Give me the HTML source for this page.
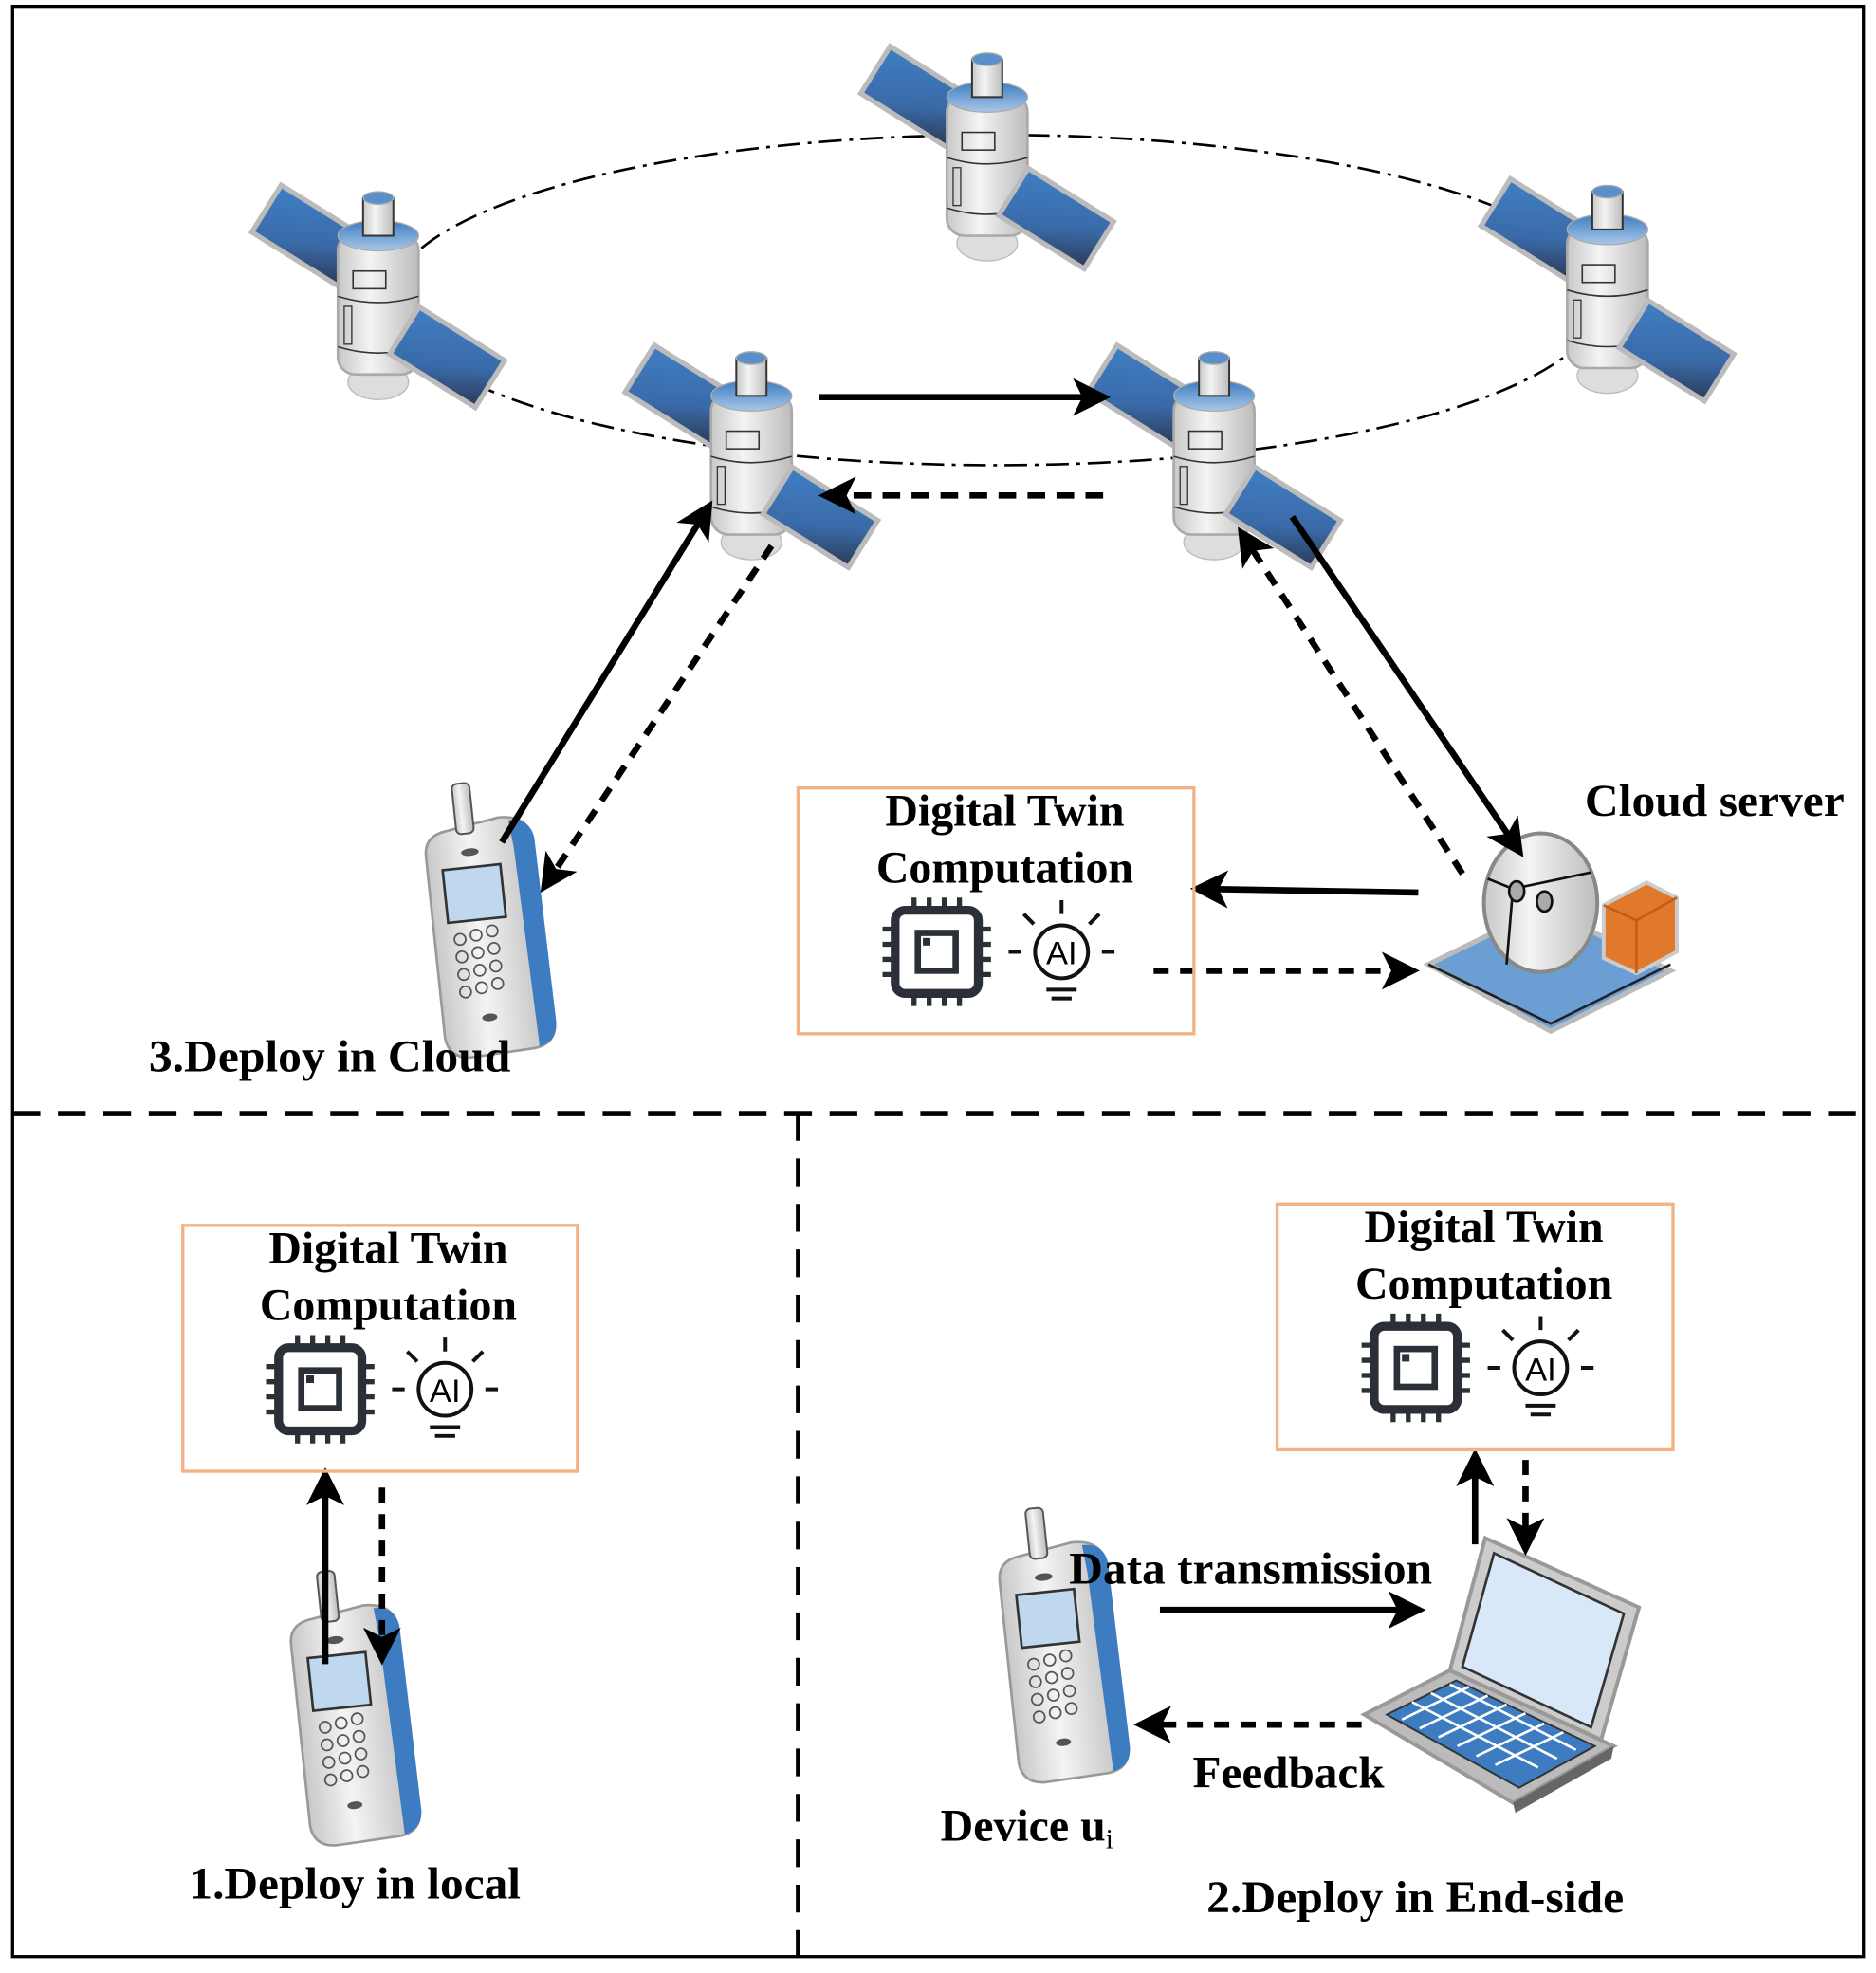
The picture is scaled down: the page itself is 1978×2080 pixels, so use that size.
<!DOCTYPE html>
<html><head><meta charset="utf-8"><style>
html,body{margin:0;padding:0;background:#fff}
svg{display:block}
text{font-family:"Liberation Serif",serif;font-weight:bold;fill:#000}
</style></head><body>
<svg width="1978" height="2080" viewBox="0 0 1488 1565" preserveAspectRatio="none" xmlns="http://www.w3.org/2000/svg">
<defs>
<linearGradient id="pan" x1="0" y1="0" x2="1" y2="1"><stop offset="0" stop-color="#3f7fc4"/><stop offset="0.6" stop-color="#3a6aa8"/><stop offset="1" stop-color="#2a3a55"/></linearGradient>
<linearGradient id="bod" x1="0" y1="0" x2="1" y2="0"><stop offset="0" stop-color="#c8c8c8"/><stop offset="0.4" stop-color="#f4f4f4"/><stop offset="1" stop-color="#bcbcbc"/></linearGradient>
<linearGradient id="blu" x1="0" y1="0" x2="0" y2="1"><stop offset="0" stop-color="#3d7cc0"/><stop offset="1" stop-color="#a9c8e8"/></linearGradient>
<marker id="ah" viewBox="0 0 10 10" refX="8" refY="5" markerWidth="6" markerHeight="6" orient="auto-start-reverse" markerUnits="strokeWidth"><path d="M0,0 L10,5 L0,10 L2.5,5 z" fill="#000"/></marker>
<g id="sat">
 <g transform="rotate(32)">
  <rect x="-112" y="-22" width="80" height="44" fill="url(#pan)" stroke="#bbb" stroke-width="4" transform="translate(0,-12)"/>
 </g>
 <ellipse cx="0" cy="68" rx="24" ry="14" fill="#ddd" stroke="#bbb"/>
 <rect x="-32" y="-50" width="64" height="112" rx="14" fill="url(#bod)" stroke="#aaa" stroke-width="2"/>
 <ellipse cx="0" cy="-48" rx="32" ry="12" fill="url(#blu)" stroke="#aaa"/>
 <rect x="-12" y="-78" width="24" height="30" fill="url(#bod)" stroke="#333" stroke-width="1.5"/>
 <ellipse cx="0" cy="-78" rx="12" ry="5" fill="#5b8fc9" stroke="#aaa"/>
 <rect x="-20" y="-20" width="26" height="14" fill="none" stroke="#333" stroke-width="1.2"/>
 <path d="M-32,0 Q0,10 32,0 M-32,40 Q0,50 32,40" fill="none" stroke="#333" stroke-width="1.2"/>
 <rect x="-27" y="8" width="6" height="30" fill="none" stroke="#333" stroke-width="1"/>
 <g transform="rotate(32)"><rect x="32" y="-10" width="80" height="44" fill="url(#pan)" stroke="#bbb" stroke-width="4"/></g>
</g>
<g id="phone">
 <path d="M-40,-70 Q-40,-85 -25,-88 L20,-95 Q42,-95 45,-78 L48,70 Q48,88 30,90 L-20,92 Q-38,92 -40,75 z" fill="url(#bod)" stroke="#999" stroke-width="2"/>
 <path d="M28,-92 Q45,-92 47,-76 L49,70 Q49,86 34,89 L30,-70 z" fill="#3d7cc0"/>
 <rect x="-14" y="-125" width="14" height="40" rx="4" fill="url(#bod)" stroke="#555" stroke-width="1.5"/>
 <rect x="-28" y="-58" width="46" height="42" fill="#c0d8ee" stroke="#333" stroke-width="2"/>
 <ellipse cx="-5" cy="-70" rx="7" ry="3" fill="#555"/>
 <g fill="none" stroke="#555" stroke-width="1.3">
  <circle cx="-20" cy="-2" r="4.5"/><circle cx="-7" cy="-4" r="4.5"/><circle cx="6" cy="-6" r="4.5"/>
  <circle cx="-20" cy="12" r="4.5"/><circle cx="-7" cy="10" r="4.5"/><circle cx="6" cy="8" r="4.5"/>
  <circle cx="-20" cy="26" r="4.5"/><circle cx="-7" cy="24" r="4.5"/><circle cx="6" cy="22" r="4.5"/>
  <circle cx="-20" cy="40" r="4.5"/><circle cx="-7" cy="38" r="4.5"/><circle cx="6" cy="36" r="4.5"/>
 </g>
 <ellipse cx="-3" cy="62" rx="6" ry="3" fill="#555"/>
</g>
<g id="icons">
 <g stroke="#2b2f38" fill="none">
  <rect x="-33" y="-33" width="66" height="66" rx="8" stroke-width="7"/>
  <rect x="-15" y="-15" width="30" height="30" stroke-width="5"/>
  <rect x="-11" y="-11" width="6" height="6" fill="#2b2f38" stroke="none"/>
  <path d="M-18,-33v-10M-6,-33v-10M6,-33v-10M18,-33v-10M-18,33v10M-6,33v10M6,33v10M18,33v10M-33,-18h-10M-33,-6h-10M-33,6h-10M-33,18h-10M33,-18h10M33,-6h10M33,6h10M33,18h10" stroke-width="4"/>
 </g>
 <g transform="translate(99,0)" stroke="#111" fill="none" stroke-width="3">
  <circle cx="0" cy="0" r="21"/>
  <path d="M-12,30h24M-8,37h16M0,-30v-11M-22,-22l-8,-8M22,-22l8,-8M-32,0h-10M32,0h10"/>
  <text x="0" y="10" font-size="26" text-anchor="middle" stroke="none" fill="#111" style="font-family:'Liberation Sans',sans-serif;font-weight:normal">AI</text>
 </g>
</g>
</defs>

<rect x="10" y="5" width="1468" height="1547" fill="none" stroke="#000" stroke-width="2.5"/>
<line x1="10" y1="883" x2="1478" y2="883" stroke="#000" stroke-width="3.5" stroke-dasharray="22,14"/>
<line x1="633" y1="883" x2="633" y2="1552" stroke="#000" stroke-width="3.5" stroke-dasharray="22,14"/>

<ellipse cx="790" cy="238" rx="480" ry="131" fill="none" stroke="#000" stroke-width="2" stroke-dasharray="18,6,3,6"/>

<use href="#sat" x="300" y="235"/>
<use href="#sat" x="783" y="125"/>
<use href="#sat" x="1275" y="230"/>
<use href="#sat" x="596" y="362"/>
<use href="#sat" x="963" y="362"/>

<use href="#phone" x="385" y="745" transform="rotate(-6 385 745)"/>
<use href="#phone" x="278" y="1370" transform="rotate(-6 278 1370)"/>
<use href="#phone" x="840" y="1320" transform="rotate(-6 840 1320)"/>

<!-- cloud server -->
<g>
 <path d="M1133,765 L1225,720 L1325,770 L1230,818 z" fill="#6b9fd4" stroke="#bbb" stroke-width="4"/>
 <path d="M1133,765 L1230,812 L1325,765" fill="none" stroke="#222" stroke-width="2"/>
 <ellipse cx="1222" cy="716" rx="45" ry="55" fill="url(#bod)" stroke="#888" stroke-width="3"/>
 <path d="M1180,697 L1200,705 L1262,692 M1200,705 L1195,765" fill="none" stroke="#111" stroke-width="2"/>
 <ellipse cx="1203" cy="707" rx="6" ry="8" fill="#aaa" stroke="#111" stroke-width="2"/>
 <ellipse cx="1225" cy="715" rx="6" ry="8" fill="#aaa" stroke="#111" stroke-width="2"/>
 <path d="M1272,718 L1306,700 L1330,712 L1330,755 L1298,772 L1272,760 z" fill="#e07a2a" stroke="#ccc" stroke-width="3"/>
 <path d="M1272,718 L1298,730 L1330,712 M1298,730 L1298,772" fill="none" stroke="#c25e18" stroke-width="2"/>
</g>

<!-- laptop -->
<g>
 <path d="M1178,1220 L1300,1275 L1270,1380 L1150,1325 z" fill="#ccc" stroke="#999" stroke-width="3"/>
 <path d="M1185,1232 L1288,1280 L1262,1370 L1160,1322 z" fill="#d8e8f8" stroke="#333" stroke-width="2"/>
 <path d="M1082,1360 L1150,1325 L1280,1385 L1200,1430 z" fill="#bbb" stroke="#999" stroke-width="3"/>
 <path d="M1100,1360 L1155,1333 L1265,1385 L1205,1418 z" fill="#3d7cc0" stroke="#333" stroke-width="1.5"/>
 <g stroke="#fff" stroke-width="2" fill="none">
  <path d="M1112,1364 L1165,1338 M1126,1371 L1180,1345 M1141,1378 L1195,1352 M1156,1385 L1210,1359 M1171,1393 L1225,1367 M1186,1400 L1240,1374"/>
  <path d="M1120,1350 L1220,1402 M1135,1343 L1235,1395 M1150,1336 L1250,1388"/>
 </g>
 <path d="M1200,1430 L1280,1385 L1278,1395 L1202,1438 z" fill="#666"/>
</g>

<g stroke="#000" stroke-width="5" fill="none">
 <line x1="650" y1="315" x2="875" y2="315" marker-end="url(#ah)"/>
 <line x1="875" y1="393" x2="655" y2="393" marker-end="url(#ah)" stroke-dasharray="14,9"/>
 <line x1="398" y1="668" x2="562" y2="402" marker-end="url(#ah)"/>
 <line x1="612" y1="433" x2="432" y2="703" marker-end="url(#ah)" stroke-dasharray="12,9"/>
 <line x1="1160" y1="693" x2="985" y2="423" marker-end="url(#ah)" stroke-dasharray="12,9"/>
 <line x1="1025" y1="410" x2="1205" y2="675" marker-end="url(#ah)"/>
 <line x1="1125" y1="708" x2="950" y2="705" marker-end="url(#ah)"/>
 <line x1="915" y1="770" x2="1120" y2="770" marker-end="url(#ah)" stroke-dasharray="12,9"/>
 <line x1="258" y1="1320" x2="258" y2="1170" marker-end="url(#ah)"/>
 <line x1="303" y1="1180" x2="303" y2="1315" marker-end="url(#ah)" stroke-dasharray="12,9"/>
 <line x1="1170" y1="1225" x2="1170" y2="1155" marker-end="url(#ah)"/>
 <line x1="1210" y1="1158" x2="1210" y2="1228" marker-end="url(#ah)" stroke-dasharray="12,9"/>
 <line x1="920" y1="1277" x2="1125" y2="1277" marker-end="url(#ah)"/>
 <line x1="1080" y1="1368" x2="905" y2="1368" marker-end="url(#ah)" stroke-dasharray="12,9"/>
</g>

<!-- boxes -->
<g fill="none" stroke="#f4b183" stroke-width="2.5">
 <rect x="633" y="625" width="314" height="195"/>
 <rect x="145" y="972" width="313" height="195"/>
 <rect x="1013" y="955" width="314" height="195"/>
</g>
<g font-size="36" text-anchor="middle">
 <text x="797" y="655">Digital Twin</text><text x="797" y="700">Computation</text>
 <text x="308" y="1002">Digital Twin</text><text x="308" y="1047">Computation</text>
 <text x="1177" y="985">Digital Twin</text><text x="1177" y="1030">Computation</text>
</g>
<use href="#icons" x="743" y="755"/>
<use href="#icons" x="254" y="1102"/>
<use href="#icons" x="1123" y="1085"/>

<g font-size="36">
 <text x="1257" y="647" textLength="206" lengthAdjust="spacingAndGlyphs">Cloud server</text>
 <text x="118" y="850" textLength="287" lengthAdjust="spacingAndGlyphs">3.Deploy in Cloud</text>
 <text x="150" y="1506" textLength="263" lengthAdjust="spacingAndGlyphs">1.Deploy in local</text>
 <text x="957" y="1517" textLength="331" lengthAdjust="spacingAndGlyphs">2.Deploy in End-side</text>
 <text x="848" y="1256" textLength="288" lengthAdjust="spacingAndGlyphs">Data transmission</text>
 <text x="946" y="1418" textLength="152" lengthAdjust="spacingAndGlyphs">Feedback</text>
 <text x="746" y="1460">Device u<tspan font-size="22" dy="6" font-weight="normal">i</tspan></text>
</g>
</svg>
</body></html>
